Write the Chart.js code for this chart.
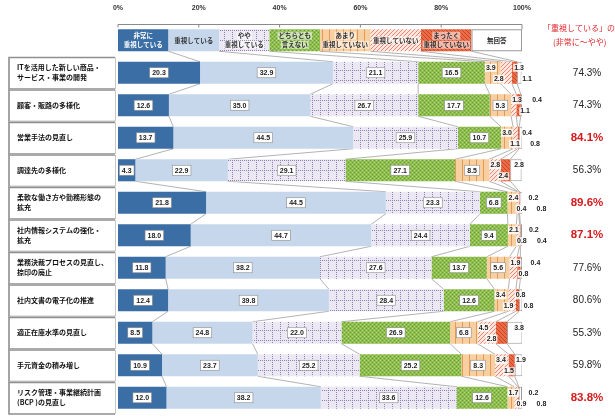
<!DOCTYPE html>
<html>
<head>
<meta charset="utf-8">
<script src="https://cdn.jsdelivr.net/npm/chart.js@4.4.1/dist/chart.umd.min.js"></script>
<style>
html, body { margin: 0; padding: 0; background: #fff; }
canvas { display: block; }
</style>
</head>
<body>
<canvas id="chart" width="615" height="416"></canvas>
<script>
// 項目名
var categories = [
  ['ITを活用した新しい商品・', 'サービス・事業の開発'],
  ['顧客・販路の多様化'],
  ['営業手法の見直し'],
  ['調達先の多様化'],
  ['柔軟な働き方や勤務形態の', '拡充'],
  ['社内情報システムの強化・', '拡充'],
  ['業務決裁プロセスの見直し、', '捺印の廃止'],
  ['社内文書の電子化の推進'],
  ['適正在庫水準の見直し'],
  ['手元資金の積み増し'],
  ['リスク管理・事業継続計画', '(BCP )の見直し']
];
var legendLabels = [
  ['非常に', '重視している'], ['重視している'], ['やや', '重視している'], ['どちらとも', '言えない'],
  ['あまり', '重視していない'], ['重視していない'], ['まったく', '重視していない'], ['無回答']
];
// 回答の割合 (%)
var veryImportant = [20.3, 12.6, 13.7, 4.3, 21.8, 18.0, 11.8, 12.4, 8.5, 10.9, 12.0];
var important     = [32.9, 35.0, 44.5, 22.9, 44.5, 44.7, 38.2, 39.8, 24.8, 23.7, 38.2];
var somewhat      = [21.1, 26.7, 25.9, 29.1, 23.3, 24.4, 27.6, 28.4, 22.0, 25.2, 33.6];
var neither       = [16.5, 17.7, 10.7, 27.1, 6.8, 9.4, 13.7, 12.6, 26.9, 25.2, 12.6];
var notMuch       = [3.9, 5.3, 3.0, 8.5, 2.4, 2.1, 5.6, 3.4, 6.8, 8.3, 1.7];
var notImportant  = [2.8, 1.3, 1.1, 2.8, 0.4, 0.8, 1.9, 1.9, 4.5, 3.4, 0.9];
var notAtAll      = [1.3, 1.1, 0.4, 2.4, 0.2, 0.2, 0.8, 0.8, 2.8, 1.5, 0.2];
var noAnswer      = [1.1, 0.4, 0.8, 2.8, 0.8, 0.4, 0.4, 0.8, 3.8, 1.9, 0.8];
// 「重視している」の合計
var totalLabels = ['74.3%', '74.3%', '84.1%', '56.3%', '89.6%', '87.1%', '77.6%', '80.6%', '55.3%', '59.8%', '83.8%'];
var highlighted = [false, false, true, false, true, true, false, false, false, false, true];

var JP = "'Noto Sans CJK JP', sans-serif";
var canvas = document.getElementById('chart');
var ctx = canvas.getContext('2d');

function makePattern(w, h, draw) {
  var c = document.createElement('canvas');
  c.width = w; c.height = h;
  draw(c.getContext('2d'));
  return ctx.createPattern(c, 'repeat');
}
var patSomewhat = makePattern(8, 10, function (g) {
  g.fillStyle = '#ece8f3'; g.fillRect(0, 0, 8, 10);
  g.fillStyle = '#8c82b2';
  for (var y = 0; y < 10; y += 2) g.fillRect(0, y, 1, 1);
  for (var x = 0; x < 8; x += 2) g.fillRect(x, 0, 1, 1);
});
var patNeither = makePattern(4, 4, function (g) {
  g.fillStyle = '#8dbd4c'; g.fillRect(0, 0, 4, 4);
  g.fillStyle = '#b2d683'; g.fillRect(0, 0, 1, 1); g.fillRect(2, 2, 1, 1);
  g.fillStyle = '#6f9c36'; g.fillRect(2, 0, 1, 1); g.fillRect(0, 2, 1, 1);
});
var patNotMuch = makePattern(7, 4, function (g) {
  g.fillStyle = '#f8cfa0'; g.fillRect(0, 0, 7, 4);
  g.fillStyle = '#e39a55'; g.fillRect(0, 0, 1, 4);
});
var patNotImportant = makePattern(4, 4, function (g) {
  g.fillStyle = '#fde6de'; g.fillRect(0, 0, 4, 4);
  g.fillStyle = '#ee8570';
  g.fillRect(3, 0, 1, 1); g.fillRect(2, 1, 1, 1); g.fillRect(1, 2, 1, 1); g.fillRect(0, 3, 1, 1);
});
var patNotAtAll = makePattern(4, 4, function (g) {
  g.fillStyle = '#eb6b45'; g.fillRect(0, 0, 4, 4);
  g.fillStyle = '#c84528';
  g.fillRect(0, 0, 1, 1); g.fillRect(1, 1, 1, 1); g.fillRect(2, 2, 1, 1); g.fillRect(3, 3, 1, 1);
});

var series = [veryImportant, important, somewhat, neither, notMuch, notImportant, notAtAll, noAnswer];
var fills = ['#3b6ea5', '#c6d7eb', patSomewhat, patNeither, patNotMuch, patNotImportant, patNotAtAll, '#ffffff'];

var datasets = series.map(function (arr, k) {
  return {
    label: legendLabels[k].join(''),
    data: [null].concat(arr),
    backgroundColor: fills[k],
    borderColor: '#9a9a9a',
    borderWidth: k === 7 ? 1 : 0,
    borderSkipped: false
  };
});

var decor = {
  id: 'decor',
  beforeDatasetsDraw: function (chart) {
    var c = chart.ctx, xs = chart.scales.x, ys = chart.scales.y;
    var half = 11;
    // 軸線
    c.save();
    c.strokeStyle = '#8a8a8a'; c.lineWidth = 1;
    var top = chart.chartArea.top + 0.5;
    c.beginPath();
    c.moveTo(xs.getPixelForValue(0), top + 3); c.lineTo(xs.getPixelForValue(0), top);
    c.lineTo(xs.getPixelForValue(100), top); c.lineTo(xs.getPixelForValue(100), top + 5);
    for (var t = 20; t < 100; t += 20) {
      c.moveTo(xs.getPixelForValue(t), top); c.lineTo(xs.getPixelForValue(t), top + 3);
    }
    c.stroke();
    // 凡例の行
    var ly = ys.getPixelForValue(0);
    for (var k = 0; k < 8; k++) {
      var x0 = xs.getPixelForValue(12.5 * k), x1 = xs.getPixelForValue(12.5 * (k + 1));
      c.fillStyle = fills[k];
      c.fillRect(x0, ly - half, x1 - x0, half * 2);
      if (k === 7) { c.strokeStyle = '#9a9a9a'; c.strokeRect(x0 + 0.5, ly - half + 0.5, x1 - x0 - 1, half * 2 - 1); }
      var lines = legendLabels[k];
      c.font = 'bold 6.5px ' + JP;
      c.textAlign = 'center'; c.textBaseline = 'middle';
      for (var j = 0; j < lines.length; j++) {
        var yy = ly + (j - (lines.length - 1) / 2) * 9;
        var tw = c.measureText(lines[j]).width;
        if (k >= 2 && k <= 6) { c.fillStyle = 'rgba(255,255,255,0.55)'; c.fillRect((x0 + x1) / 2 - tw / 2 - 1, yy - 4, tw + 2, 8); }
        c.fillStyle = k === 0 ? '#ffffff' : '#333333';
        c.fillText(lines[j], (x0 + x1) / 2, yy);
      }
    }
    // 連結線
    var metas = chart.data.datasets.map(function (d, i) { return chart.getDatasetMeta(i); });
    function bounds(row) {
      var arr = [];
      for (var k = 0; k < 7; k++) {
        arr.push(row === 0 ? xs.getPixelForValue(12.5 * (k + 1)) : metas[k].data[row].x);
      }
      return arr;
    }
    c.strokeStyle = '#a0a0a0'; c.lineWidth = 0.8;
    c.beginPath();
    for (var r = 0; r < categories.length; r++) {
      var b1 = bounds(r), b2 = bounds(r + 1);
      var y1 = ys.getPixelForValue(r) + half, y2 = ys.getPixelForValue(r + 1) - half;
      for (var m = 0; m < 7; m++) { c.moveTo(b1[m], y1); c.lineTo(b2[m], y2); }
    }
    c.stroke();
    c.restore();
  },
  afterDatasetsDraw: function (chart) {
    var c = chart.ctx, ys = chart.scales.y;
    c.save();
    c.font = 'bold 7px "Liberation Sans", Arial, sans-serif';
    c.textAlign = 'center'; c.textBaseline = 'middle';
    for (var r = 1; r <= categories.length; r++) {
      var yc = ys.getPixelForValue(r);
      var small = [];
      for (var k = 0; k < 8; k++) {
        var v = series[k][r - 1];
        var el = chart.getDatasetMeta(k).data[r];
        if (k < 4 || v >= 5) {
          var cx = (el.base + el.x) / 2, txt = v.toFixed(1);
          var w = c.measureText(txt).width + 5;
          c.fillStyle = '#ffffff'; c.fillRect(cx - w / 2, yc - 5, w, 10);
          c.strokeStyle = '#8a8a8a'; c.lineWidth = 0.6; c.strokeRect(cx - w / 2, yc - 5, w, 10);
          c.fillStyle = '#222'; c.fillText(txt, cx, yc + 0.5);
        } else {
          small.push({ v: v, base: el.base });
        }
      }
      if (small.length) {
        var s = small[0].base;
        var x1 = s + 6, x2 = s + 14, x3 = Math.max(x1 + 20, 519), x4 = x3 + 8;
        var pos = [[x1, yc - 5], [x2, yc + 6], [x3, yc - 5], [x4, yc + 6]];
        for (var q = 0; q < small.length; q++) {
          var st = small[q].v.toFixed(1);
          var sw = c.measureText(st).width + 2;
          c.fillStyle = 'rgba(255,255,255,0.85)';
          c.fillRect(pos[q][0] - sw / 2, pos[q][1] - 4, sw, 8);
          c.fillStyle = '#222';
          c.fillText(st, pos[q][0], pos[q][1]);
        }
      }
    }
    c.restore();
  },
  afterDraw: function (chart) {
    var c = chart.ctx, ys = chart.scales.y;
    var pitch = ys.getPixelForValue(2) - ys.getPixelForValue(1);
    c.save();
    // 左側の項目ボックス
    for (var r = 1; r <= categories.length; r++) {
      var yc = ys.getPixelForValue(r);
      var y0 = yc - pitch / 2, y1 = yc + pitch / 2;
      c.fillStyle = '#ffffff'; c.fillRect(9, y0, 106, y1 - y0);
      c.strokeStyle = '#8f8f8f'; c.lineWidth = 1.6;
      c.beginPath();
      c.moveTo(115, y0 + 1); c.lineTo(9, y0 + 1); c.lineTo(9, y1); c.lineTo(115, y1);
      c.stroke();
      c.strokeStyle = '#c8c8c8'; c.lineWidth = 1;
      c.beginPath(); c.moveTo(115.5, y0 + 1); c.lineTo(115.5, y1); c.stroke();
      var lines = categories[r - 1];
      c.font = 'bold 7px ' + JP;
      c.fillStyle = '#111'; c.textAlign = 'left'; c.textBaseline = 'middle';
      for (var j = 0; j < lines.length; j++) {
        c.fillText(lines[j], 17, yc + (j - (lines.length - 1) / 2) * 10);
      }
    }
    // 右側の合計
    c.fillStyle = '#e0262b';
    c.font = '8px ' + JP; c.textAlign = 'left'; c.textBaseline = 'middle';
    c.fillText('「重視している」の合計', 543, 28);
    c.fillText('(非常に～やや)', 553, 42);
    c.textAlign = 'center';
    for (var i = 0; i < totalLabels.length; i++) {
      var y = ys.getPixelForValue(i + 1);
      if (highlighted[i]) {
        c.fillStyle = '#d7191c'; c.font = 'bold 11.5px "Liberation Sans", Arial, sans-serif';
      } else {
        c.fillStyle = '#222'; c.font = '10px "Liberation Sans", Arial, sans-serif';
      }
      c.fillText(totalLabels[i], 587, y);
    }
    c.restore();
  }
};

var chart = new Chart(ctx, {
  type: 'bar',
  data: {
    labels: [''].concat(categories.map(function (l) { return l.join(''); })),
    datasets: datasets
  },
  options: {
    indexAxis: 'y',
    responsive: false,
    animation: false,
    devicePixelRatio: 1,
    layout: { padding: { left: 118, right: 93, top: 0, bottom: 2 } },
    datasets: { bar: { categoryPercentage: 1, barPercentage: 0.68 } },
    plugins: { legend: { display: false }, tooltip: { enabled: false } },
    scales: {
      x: {
        position: 'top', stacked: true, min: 0, max: 100,
        grid: { display: false }, border: { display: false },
        ticks: {
          stepSize: 20, padding: 4, maxRotation: 0, color: '#333',
          font: { size: 7, weight: 'bold', family: '"Liberation Sans", Arial, sans-serif' },
          callback: function (v) { return v + '%'; }
        },
        afterFit: function (s) { s.height = 24; }
      },
      y: { stacked: true, display: false }
    }
  },
  plugins: [decor]
});
</script>
</body>
</html>
